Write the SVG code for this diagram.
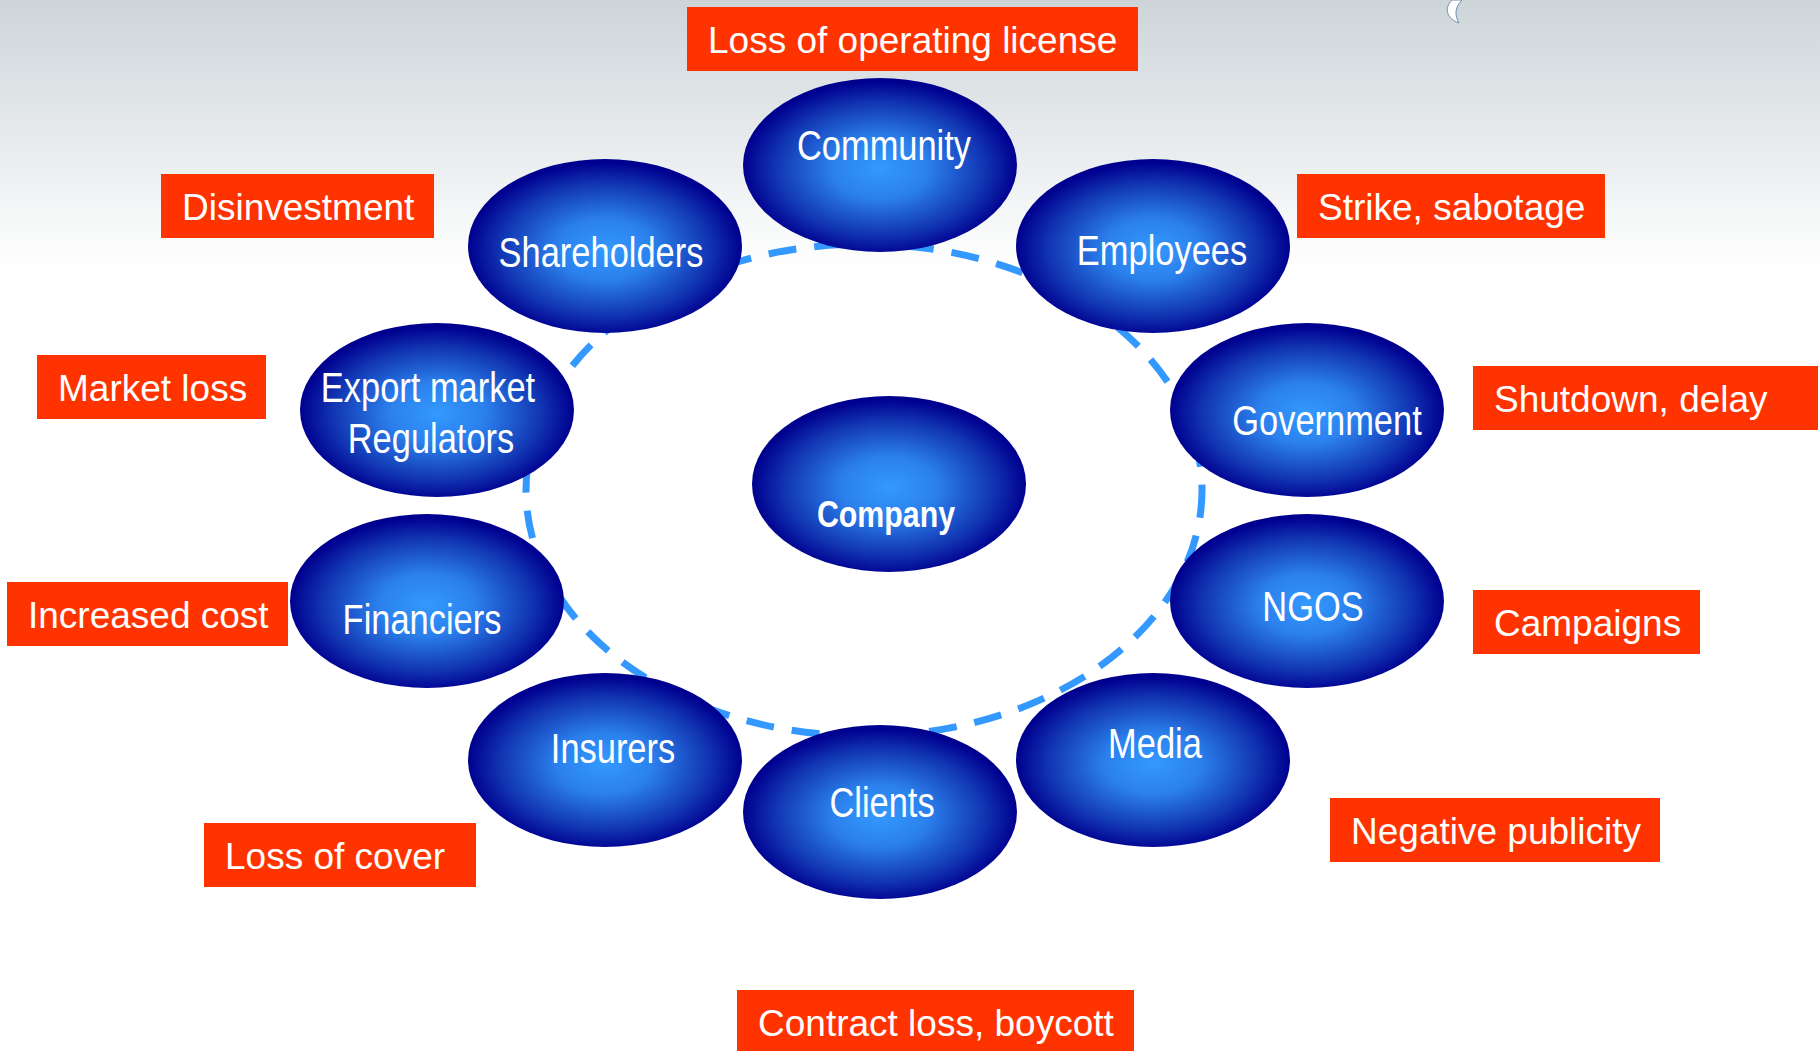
<svg xmlns="http://www.w3.org/2000/svg" width="1820" height="1051" viewBox="0 0 1820 1051">
<defs>
<linearGradient id="bg" gradientUnits="userSpaceOnUse" x1="0" y1="0" x2="0" y2="270">
<stop offset="0" stop-color="#cdd5d9"/>
<stop offset="1" stop-color="#ffffff"/>
</linearGradient>
<radialGradient id="ball" cx="50%" cy="52%" r="50%">
<stop offset="0" stop-color="#3399ff"/>
<stop offset="0.35" stop-color="#2b80ec"/>
<stop offset="0.75" stop-color="#1237b4"/>
<stop offset="1" stop-color="#00008f"/>
</radialGradient>
</defs>
<style>
.node{fill:url(#ball);}
.nt{font-family:"Liberation Sans Narrow","Liberation Sans",Arial,sans-serif;font-size:42px;fill:#ffffff;text-anchor:middle;}
.bold{font-weight:bold;font-size:37px;}
.box{fill:#ff3300;}
.bt{font-family:"Liberation Sans",Arial,sans-serif;font-size:37px;fill:#ffffff;}
.ring{fill:none;stroke:#3399ff;stroke-width:7;stroke-dasharray:28 18;}
</style>
<rect x="0" y="0" width="1820" height="1051" fill="url(#bg)"/>
<path d="M1452,0 C1444,8 1446,18 1459,23 C1455,16 1454,8 1462,0 Z" fill="#ffffff" stroke="#7090b0" stroke-width="1"/>
<g id="connectors">
<ellipse class="ring" cx="864" cy="490" rx="338" ry="246"/>
</g>
<g id="community"><ellipse class="node" cx="880" cy="165" rx="137" ry="87"/><text class="nt" transform="translate(884 160) scale(0.82 1)">Community</text></g>
<g id="shareholders"><ellipse class="node" cx="605" cy="246" rx="137" ry="87"/><text class="nt" transform="translate(601 267) scale(0.82 1)">Shareholders</text></g>
<g id="employees"><ellipse class="node" cx="1153" cy="246" rx="137" ry="87"/><text class="nt" transform="translate(1162 265) scale(0.82 1)">Employees</text></g>
<g id="export"><ellipse class="node" cx="437" cy="410" rx="137" ry="87"/><text class="nt" transform="translate(428 402) scale(0.82 1)">Export market</text><text class="nt" transform="translate(431 453) scale(0.82 1)">Regulators</text></g>
<g id="government"><ellipse class="node" cx="1307" cy="410" rx="137" ry="87"/><text class="nt" transform="translate(1327 435) scale(0.82 1)">Government</text></g>
<g id="financiers"><ellipse class="node" cx="427" cy="601" rx="137" ry="87"/><text class="nt" transform="translate(422 634) scale(0.82 1)">Financiers</text></g>
<g id="ngos"><ellipse class="node" cx="1307" cy="601" rx="137" ry="87"/><text class="nt" transform="translate(1313 621) scale(0.82 1)">NGOS</text></g>
<g id="insurers"><ellipse class="node" cx="605" cy="760" rx="137" ry="87"/><text class="nt" transform="translate(613 763) scale(0.82 1)">Insurers</text></g>
<g id="media"><ellipse class="node" cx="1153" cy="760" rx="137" ry="87"/><text class="nt" transform="translate(1155 758) scale(0.82 1)">Media</text></g>
<g id="clients"><ellipse class="node" cx="880" cy="812" rx="137" ry="87"/><text class="nt" transform="translate(882 817) scale(0.82 1)">Clients</text></g>
<g id="company"><ellipse class="node" cx="889" cy="484" rx="137" ry="88"/><text class="nt bold" transform="translate(886 527) scale(0.82 1)">Company</text></g>
<g id="lbl-license"><rect class="box" x="687" y="7" width="451" height="64"/><text class="bt" x="708" y="53">Loss of operating license</text></g>
<g id="lbl-disinvestment"><rect class="box" x="161" y="174" width="273" height="64"/><text class="bt" x="182" y="220">Disinvestment</text></g>
<g id="lbl-strike"><rect class="box" x="1297" y="174" width="308" height="64"/><text class="bt" x="1318" y="220">Strike, sabotage</text></g>
<g id="lbl-market"><rect class="box" x="37" y="355" width="229" height="64"/><text class="bt" x="58" y="401">Market loss</text></g>
<g id="lbl-shutdown"><rect class="box" x="1473" y="366" width="345" height="64"/><text class="bt" x="1494" y="412">Shutdown, delay</text></g>
<g id="lbl-cost"><rect class="box" x="7" y="582" width="281" height="64"/><text class="bt" x="28" y="628">Increased cost</text></g>
<g id="lbl-campaigns"><rect class="box" x="1473" y="590" width="227" height="64"/><text class="bt" x="1494" y="636">Campaigns</text></g>
<g id="lbl-cover"><rect class="box" x="204" y="823" width="272" height="64"/><text class="bt" x="225" y="869">Loss of cover</text></g>
<g id="lbl-publicity"><rect class="box" x="1330" y="798" width="330" height="64"/><text class="bt" x="1351" y="844">Negative publicity</text></g>
<g id="lbl-contract"><rect class="box" x="737" y="990" width="397" height="61"/><text class="bt" x="758" y="1036">Contract loss, boycott</text></g>
</svg>
